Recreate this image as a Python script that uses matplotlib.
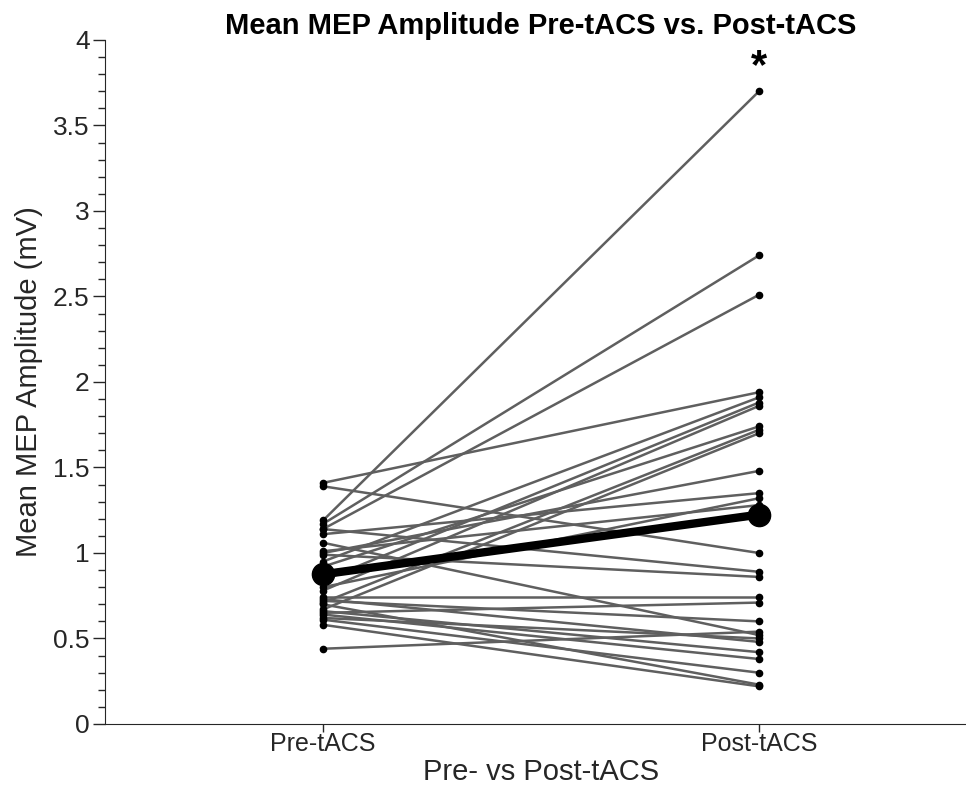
import numpy as np
import matplotlib
matplotlib.use("Agg")
import matplotlib.pyplot as plt

plt.rcParams['font.family'] = ['Liberation Sans', 'DejaVu Sans']

conditions = ["Pre-tACS", "Post-tACS"]

# one value per subject, paired by index
pre = [1.19, 1.17, 1.14, 1.41, 0.95, 0.84, 0.78, 0.92, 0.71, 0.67,
       1.00, 1.11, 0.80, 1.01, 0.89, 1.39, 1.14, 0.99, 0.74, 0.65,
       0.72, 0.44, 1.06, 0.62, 0.73, 0.66, 0.64, 0.61, 0.70, 0.58]
post = [3.70, 2.74, 2.51, 1.94, 1.91, 1.88, 1.86, 1.74, 1.72, 1.70,
        1.48, 1.35, 1.32, 1.28, 1.21, 1.00, 0.89, 0.86, 0.74, 0.71,
        0.60, 0.54, 0.52, 0.50, 0.48, 0.42, 0.38, 0.30, 0.23, 0.22]

yticks = [0, 0.5, 1, 1.5, 2, 2.5, 3, 3.5, 4]
ytick_labels = ['0', '0.5', '1', '1.5', '2', '2.5', '3', '3.5', '4']

xpos = [1, 2]

fig = plt.figure(figsize=(9.66, 8.11), dpi=100)
ax = fig.add_axes([0.1087, 0.1073, 0.9027, 0.8434])

for a, b in zip(pre, post):
    ax.plot(xpos, [a, b], color='#5f5f5f', lw=1.8, zorder=2)
    ax.plot(xpos, [a, b], 'o', color='black', ms=4.5, zorder=3)

ax.plot(xpos, [np.mean(pre), np.mean(post)], '-o', color='black',
        lw=6, ms=16, zorder=4)

ax.text(2, 3.84, '*', ha='center', va='center', fontsize=30,
        fontweight='bold')

ax.set_xlim(0.5, 2.5)
ax.set_ylim(0, 4)
ax.set_xticks(xpos)
ax.set_xticklabels(conditions, fontsize=18)
ax.set_yticks(yticks)
ax.set_yticklabels(ytick_labels)
ax.set_yticks(np.arange(0, 4.01, 0.1), minor=True)
ax.tick_params(axis='y', labelsize=19, colors='#262626', length=9, width=1,
               pad=2)
ax.tick_params(axis='y', which='minor', length=5, width=1, colors='#262626')
ax.tick_params(axis='x', colors='#262626', length=6, width=1, pad=0)

for s in ['top', 'right']:
    ax.spines[s].set_visible(False)
for s in ['left', 'bottom']:
    ax.spines[s].set_color('#262626')

ax.set_ylabel('Mean MEP Amplitude (mV)', fontsize=21, color='#262626',
              labelpad=7)
ax.set_xlabel('Pre- vs Post-tACS', fontsize=21, color='#262626', labelpad=1)
ax.set_title('Mean MEP Amplitude Pre-tACS vs. Post-tACS', fontsize=21,
             fontweight='bold', pad=3)

fig.savefig('out.png', dpi=100)
